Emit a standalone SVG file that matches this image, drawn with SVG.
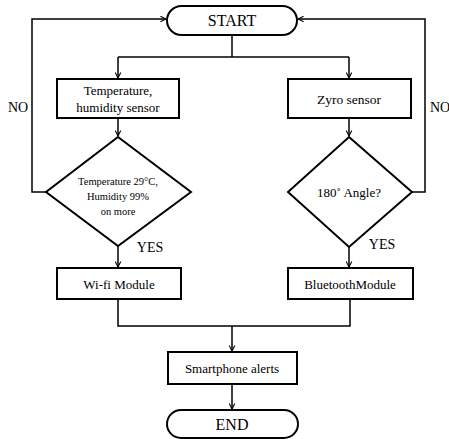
<svg xmlns="http://www.w3.org/2000/svg" width="449" height="439" viewBox="0 0 449 439">
<style>
.n{fill:#fff;stroke:#000;stroke-width:2}
.c{fill:none;stroke:#000;stroke-width:1.5}
text{font-family:"Liberation Serif","Times New Roman",serif;fill:#000;text-anchor:middle}
</style>
<defs>
<marker id="a" viewBox="0 0 10 10" refX="9" refY="5" markerWidth="7" markerHeight="7" orient="auto" markerUnits="userSpaceOnUse">
<path d="M1,1 L9,5 L1,9" fill="none" stroke="#000" stroke-width="1.5"/>
</marker>
</defs>
<rect width="449" height="439" fill="#fff"/>
<g id="connectors">
<path class="c" d="M232,35 V57"/>
<path class="c" d="M118,57 H349"/>
<path class="c" d="M118,57 V78" marker-end="url(#a)"/>
<path class="c" d="M349,57 V78" marker-end="url(#a)"/>
<path class="c" d="M118,118 V136" marker-end="url(#a)"/>
<path class="c" d="M349,118 V136" marker-end="url(#a)"/>
<path class="c" d="M46,192 H32 V19 H166" marker-end="url(#a)"/>
<path class="c" d="M412,192 H425 V19 H298" marker-end="url(#a)"/>
<path class="c" d="M118,246 V267" marker-end="url(#a)"/>
<path class="c" d="M349,246 V267" marker-end="url(#a)"/>
<path class="c" d="M118,299 V326 H350 V299"/>
<path class="c" d="M232,326 V351" marker-end="url(#a)"/>
<path class="c" d="M232,384 V409" marker-end="url(#a)"/>
<text x="18" y="112" font-size="14">NO</text>
<text x="440" y="112" font-size="14">NO</text>
<text x="150" y="252" font-size="14">YES</text>
<text x="382" y="249" font-size="14">YES</text>
</g>
<g id="start">
<rect class="n" x="167" y="6" width="130" height="29" rx="14.5"/>
<text x="232" y="26" font-size="16">START</text>
</g>
<g id="temp-sensor">
<rect class="n" x="57" y="79" width="122" height="39"/>
<text x="118" y="95" font-size="13">Temperature,</text>
<text x="118" y="112" font-size="13">humidity sensor</text>
</g>
<g id="zyro-sensor">
<rect class="n" x="288" y="79" width="123" height="39"/>
<text x="349" y="104" font-size="13.5">Zyro sensor</text>
</g>
<g id="temp-decision">
<polygon class="n" points="118,137 191,192 118,246 46,192"/>
<text x="118" y="185" font-size="10.5">Temperature 29°C,</text>
<text x="118" y="200" font-size="10.5">Humidity 99%</text>
<text x="118" y="215" font-size="10.5">on more</text>
</g>
<g id="angle-decision">
<polygon class="n" points="349,137 412,192 349,247 288,192"/>
<text x="349" y="197" font-size="13">180˚ Angle?</text>
</g>
<g id="wifi">
<rect class="n" x="57" y="268" width="124" height="31"/>
<text x="119" y="289" font-size="13">Wi-fi Module</text>
</g>
<g id="bluetooth">
<rect class="n" x="288" y="268" width="125" height="31"/>
<text x="350" y="289" font-size="13">BluetoothModule</text>
</g>
<g id="smartphone">
<rect class="n" x="168" y="352" width="129" height="32"/>
<text x="232" y="373" font-size="13">Smartphone alerts</text>
</g>
<g id="end">
<rect class="n" x="167" y="410" width="131" height="28" rx="14"/>
<text x="232" y="430" font-size="16">END</text>
</g>
</svg>
